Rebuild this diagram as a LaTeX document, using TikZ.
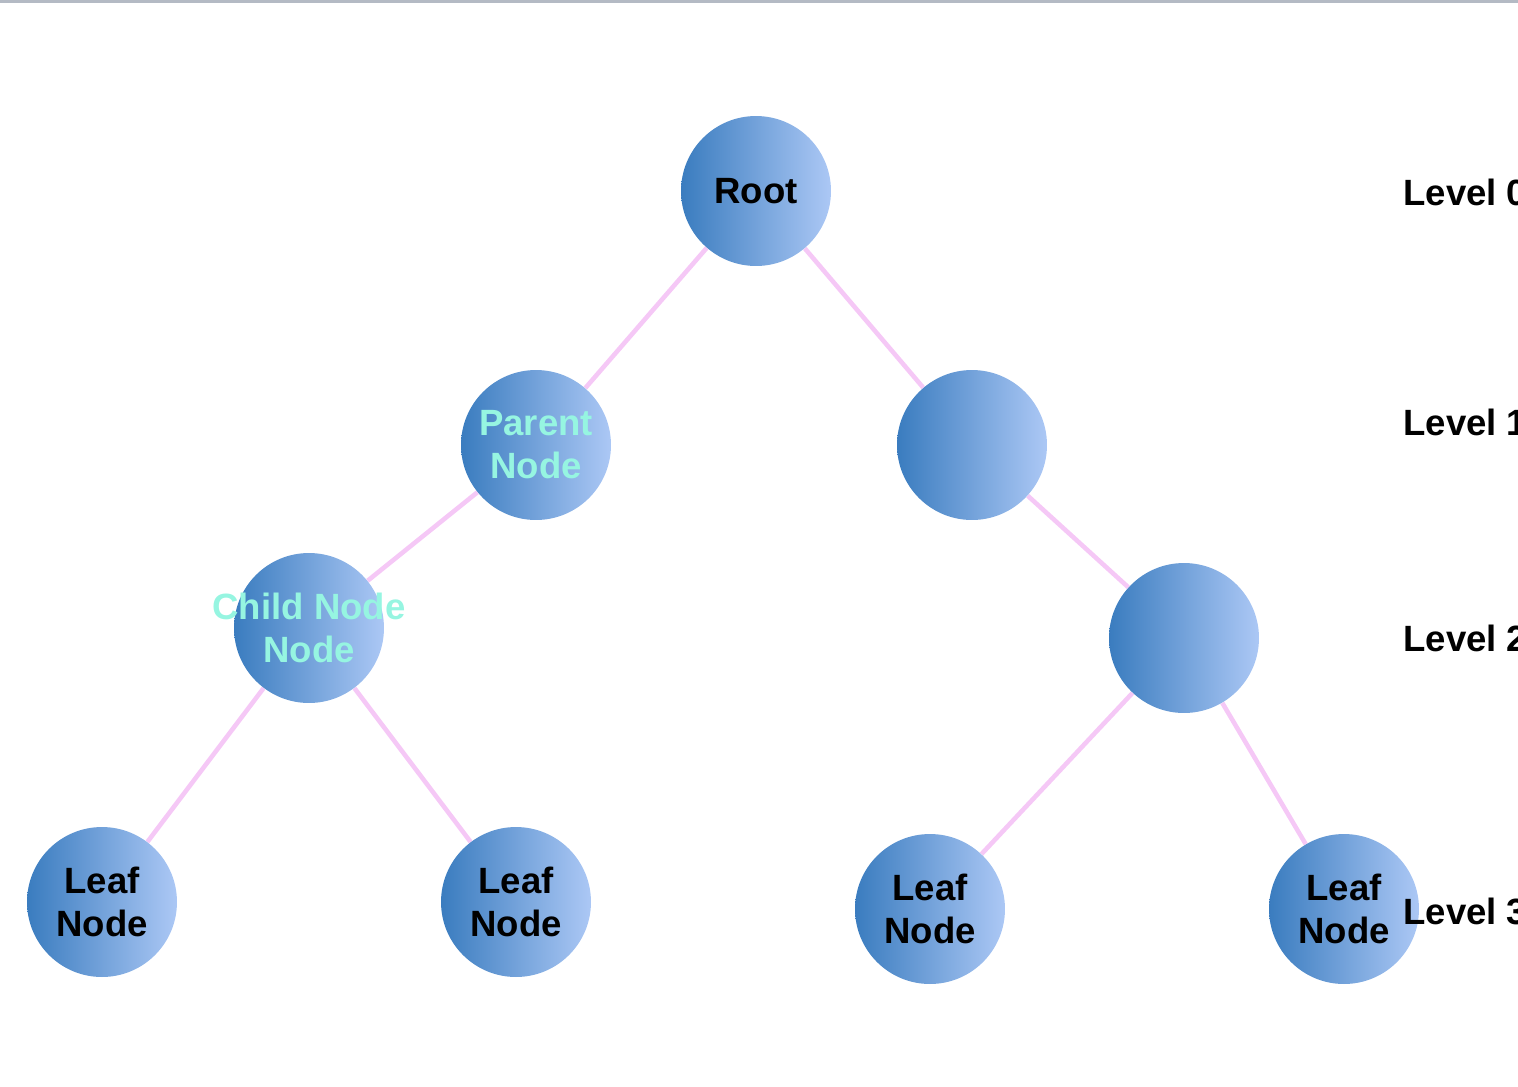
\documentclass[tikz,border=0pt]{standalone}
\usepackage{fontspec}
\setmainfont{Liberation Sans}
\usepackage{tikz}
\usetikzlibrary{positioning}
\definecolor{nodedark}{RGB}{58,124,191}
\definecolor{nodelight}{RGB}{172,200,245}
\definecolor{edgepink}{RGB}{245,200,246}
\definecolor{labelcyan}{RGB}{150,245,225}
\definecolor{topgray}{RGB}{180,186,196}
\pgfdeclarelayer{back}
\pgfsetlayers{back,main}

\begin{document}
\begin{tikzpicture}[x=0.02cm, y=-0.02cm,
  treenode/.style={circle, minimum size=3cm, inner sep=0pt,
    left color=nodedark, right color=nodelight,
    font=\fontsize{20.8}{24.5}\selectfont\bfseries, align=center},
  levellabel/.style={anchor=west, inner sep=0pt,
    font=\fontsize{20.8}{24.5}\selectfont\bfseries},
  branch/.style={draw=edgepink, line width=2.6pt}]
\useasboundingbox (0,0) rectangle (1518,1086);
\clip (0,0) rectangle (1518,1086);
\fill[topgray] (0,0) rectangle (1518,3);

% nodes
\node[treenode] (root) at (756,191) {Root};
\node[treenode, text=labelcyan] (parent) at (536,445) {Parent\\Node};
\node[treenode] (right1) at (972,445) {};
\node[treenode, text=labelcyan] (child) at (309,628) {\makebox[0pt]{Child Node}\\Node};
\node[treenode] (right2) at (1184,638) {};
\node[treenode] (leafa) at (102,902) {Leaf\\Node};
\node[treenode] (leafb) at (516,902) {Leaf\\Node};
\node[treenode] (leafc) at (930,909) {Leaf\\Node};
\node[treenode] (leafd) at (1344,909) {Leaf\\Node};

% level labels
\node[levellabel] (lvl0) at (1403,192) {Level 0};
\node[levellabel] (lvl1) at (1403,422) {Level 1};
\node[levellabel] (lvl2) at (1403,638) {Level 2};
\node[levellabel] (lvl3) at (1403,911) {Level 3};

% edges behind the nodes
\begin{pgfonlayer}{back}
\draw[branch] (root) -- (parent);
\draw[branch] (root) -- (right1);
\draw[branch] (parent) -- (child);
\draw[branch] (right1) -- (right2);
\draw[branch] (child) -- (leafa);
\draw[branch] (child) -- (leafb);
\draw[branch] (right2) -- (leafc);
\draw[branch] (right2) -- (leafd);
\end{pgfonlayer}
\end{tikzpicture}
\end{document}
